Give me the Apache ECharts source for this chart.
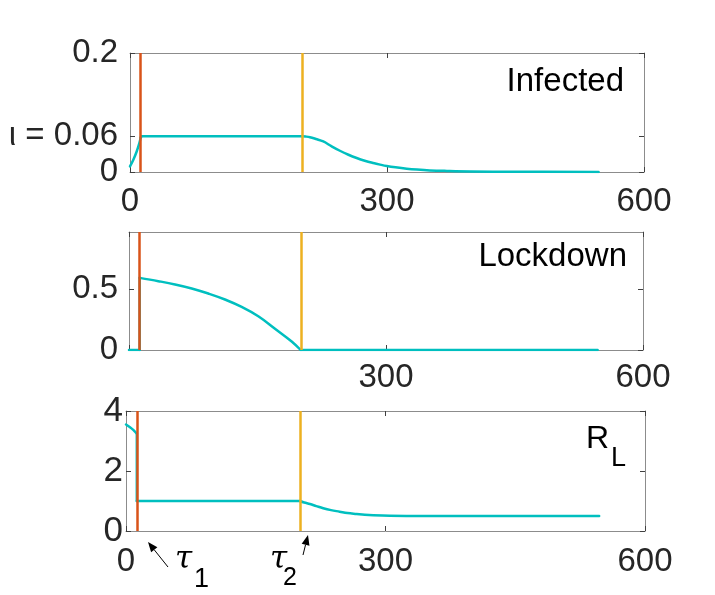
<!DOCTYPE html>
<html><head><meta charset="utf-8">
<script src="https://cdn.jsdelivr.net/npm/echarts@6.0.0/dist/echarts.min.js"></script>
<style>html,body{margin:0;padding:0;background:#fff}#c{width:715px;height:595px}</style>
</head><body><div id="c"></div><script>
// ---- data ----
const xTicks = [0, 300, 600];
const tau1 = 12.5;
const tau2 = 201;
const infected = [[0,0.0094],[3.9,0.0206],[7.8,0.0345],[10.9,0.0486],[12.5,0.058],[13.5,0.06],[201,0.06],[205,0.0596],[210,0.0585],[217,0.0555],[225.6,0.0513],[235,0.0435],[245,0.0357],[255,0.029],[264.6,0.0235],[274,0.019],[284,0.0151],[292,0.0124],[299.7,0.0101],[310,0.0078],[323,0.0055],[335,0.004],[350,0.0027],[370,0.0018],[397,0.001],[450,0.0004],[547,0.0001]];
const lockdown = [[0,0],[12.5,0],[12.5,0.593],[34.2,0.566],[53.7,0.539],[73.2,0.506],[92.6,0.464],[112,0.415],[131.5,0.354],[150.9,0.277],[170.4,0.175],[189.9,0.07],[200.4,0],[547,0]];
const rl = [[0,3.55],[4.6,3.46],[8,3.38],[10.4,3.31],[12.5,3.25],[12.5,1.0],[201,1.0],[206,0.95],[212.7,0.9],[220,0.83],[228,0.757],[237,0.695],[247,0.645],[256,0.6],[266.7,0.567],[276,0.54],[285.9,0.523],[305,0.507],[343,0.5],[547,0.5]];
const infectedTicks = [0, 0.06, 0.2];
const lockdownTicks = [0, 0.5];
const rlTicks = [0, 2, 4];
const panelNames = ['Infected', 'Lockdown'];

// ---- styling ----
const FONT = 'Liberation Sans';
const boxColor = '#8c8c8c';
const tickColor = '#404040';
const lblColor = '#262626';
const cyan = '#00BFBF';
const red = '#D95319';
const yellow = '#EDB120';

const grids = [
  {left:130, top:53, width:514, height:119},
  {left:129, top:232, width:514, height:118},
  {left:126, top:411, width:519, height:120}
];
const yConf = [
  {max:0.2, ticks:infectedTicks, margin:12, size:33, fmt:v => Math.abs(v-0.06)<1e-9 ? 'ι = 0.06' : String(v)},
  {max:0.97, ticks:lockdownTicks, margin:11, size:33, fmt:v => String(v)},
  {max:4, ticks:rlTicks, margin:3, size:35, fmt:v => String(v)}
];
const xConf = [
  {margin:13, fmt:v => String(v)},
  {margin:11, fmt:v => v===0 ? '' : String(v)},
  {margin:14, fmt:v => String(v)}
];
const datas = [infected, lockdown, rl];

// split a curve at its jumps and at the corners on the switching times,
// so that each smooth piece can be drawn with smoothing
function pieces(d) {
  const out = [[d[0]]];
  const corner = x => Math.abs(x - tau1) <= 1.2 || Math.abs(x - tau2) <= 1.2;
  for (let k = 1; k < d.length; k++) {
    if (d[k][0] === d[k-1][0]) { out.push([d[k-1], d[k]], [d[k]]); continue; }
    out[out.length-1].push(d[k]);
    if (corner(d[k][0]) && k < d.length-1 && d[k+1][0] !== d[k][0]) out.push([d[k]]);
  }
  return out.filter(p => p.length > 1);
}

const xAxes = [], yAxes = [], series = [];
grids.forEach((g, i) => {
  const line = {show:true, onZero:false, lineStyle:{color:boxColor, width:1}};
  const tick = (vals) => ({show:true, inside:true, length:5, customValues:vals, lineStyle:{color:tickColor, width:1}});
  xAxes.push({type:'value', gridIndex:i, position:'bottom', min:0, max:600, interval:300,
    axisLine:line, axisTick:tick(xTicks), splitLine:{show:false},
    axisLabel:{customValues:xTicks, formatter:xConf[i].fmt, margin:xConf[i].margin, fontSize:33, fontFamily:FONT, color:lblColor}});
  xAxes.push({type:'value', gridIndex:i, position:'top', min:0, max:600, interval:300,
    axisLine:line, axisTick:tick(xTicks), splitLine:{show:false}, axisLabel:{show:false}});
  yAxes.push({type:'value', gridIndex:i, position:'left', min:0, max:yConf[i].max,
    axisLine:line, axisTick:tick(yConf[i].ticks), splitLine:{show:false},
    axisLabel:{customValues:yConf[i].ticks, formatter:yConf[i].fmt, margin:yConf[i].margin, fontSize:yConf[i].size, fontFamily:FONT, color:lblColor}});
  yAxes.push({type:'value', gridIndex:i, position:'right', min:0, max:yConf[i].max,
    axisLine:line, axisTick:tick(yConf[i].ticks), splitLine:{show:false}, axisLabel:{show:false}});
  pieces(datas[i]).forEach((seg, j) => {
    series.push({type:'line', xAxisIndex:2*i, yAxisIndex:2*i, data:seg, showSymbol:false,
      smooth: seg.length > 3 ? 0.4 : false,
      lineStyle:{color:cyan, width:2.5, cap:'round', join:'round'}, z:2, silent:true,
      markLine: j === 0 ? {silent:true, symbol:['none','none'], label:{show:false}, z:3,
        data:[{xAxis:tau1, lineStyle:{color:red, width:2.5, type:'solid'}},
              {xAxis:tau2, lineStyle:{color:yellow, width:2.5, type:'solid'}}]} : undefined});
  });
});

function arrow(x1, y1, x2, y2) {
  const dx = x2-x1, dy = y2-y1, L = Math.hypot(dx, dy);
  const ux = dx/L, uy = dy/L, hl = 10, hw = 4;
  const bx = x2-ux*hl, by = y2-uy*hl;
  return [
    {type:'line', shape:{x1:x1, y1:y1, x2:bx, y2:by}, style:{stroke:'#000', lineWidth:1}},
    {type:'polygon', shape:{points:[[x2,y2],[bx-uy*hw, by+ux*hw],[bx+uy*hw, by-ux*hw]]}, style:{fill:'#000'}}
  ];
}
const txt = (t, x, y, size, align, extra) => Object.assign({type:'text', x:x, y:y,
  style:Object.assign({text:t, fontSize:size, fontFamily:FONT, fill:'#000', align:align||'left', verticalAlign:'middle'}, extra||{})});

const graphic = [
  txt(panelNames[0], 624, 82, 33, 'right'),
  txt(panelNames[1], 627, 257, 33, 'right'),
  txt('R', 586, 439, 32, 'left'),
  txt('L', 611, 459, 27, 'left'),
  txt('τ', 175, 560, 31, 'left', {fontFamily:'DejaVu Serif', fontStyle:'italic'}),
  txt('1', 194, 580, 27, 'left'),
  txt('τ', 270, 560, 31, 'left', {fontFamily:'DejaVu Serif', fontStyle:'italic'}),
  txt('2', 283, 578, 25, 'left'),
  ...arrow(168, 567, 148, 542),
  ...arrow(303, 555, 308, 535)
];

const chart = echarts.init(document.getElementById('c'), null, {renderer:'canvas'});
chart.setOption({
  animation:false,
  backgroundColor:'#fff',
  grid: grids.map(g => Object.assign({containLabel:false}, g)),
  xAxis:xAxes, yAxis:yAxes, series:series, graphic:graphic
});
</script></body></html>
